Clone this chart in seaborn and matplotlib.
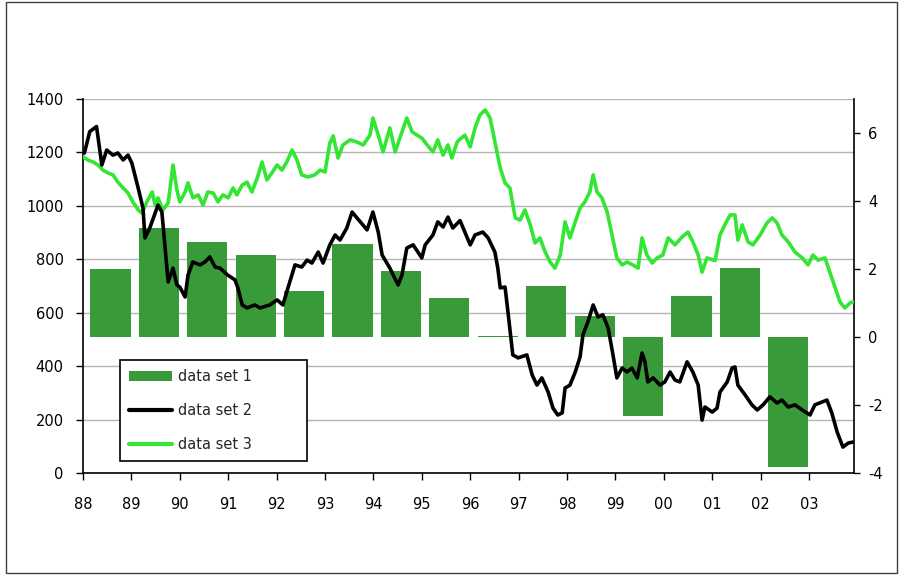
import matplotlib
matplotlib.use('Agg')
import matplotlib.pyplot as plt
import seaborn as sns
from matplotlib.patches import Patch, Rectangle
from matplotlib.lines import Line2D

# x axis runs in years counted from Jan 1988
year_labels = ['88', '89', '90', '91', '92', '93', '94', '95',
               '96', '97', '98', '99', '00', '01', '02', '03']

# data set 1: one bar per year, right axis
bar_t = [0.57, 1.57, 2.57, 3.57, 4.57, 5.57, 6.57, 7.57,
         8.57, 9.57, 10.57, 11.57, 12.57, 13.57, 14.57]
bar_values = [2.0, 3.2, 2.8, 2.4, 1.35, 2.75, 1.95, 1.15,
              0.03, 1.5, 0.62, -2.32, 1.2, 2.02, -3.81]

# data set 2: black line, left axis
set2_t = [0.03, 0.14, 0.28, 0.39, 0.49, 0.62, 0.72, 0.83, 0.93, 1.01,
          1.14, 1.24, 1.28, 1.38, 1.55, 1.63, 1.69, 1.76, 1.86, 1.94,
          2.00, 2.11, 2.17, 2.27, 2.42, 2.52, 2.62, 2.73, 2.83, 2.99,
          3.14, 3.20, 3.29, 3.39, 3.55, 3.66, 3.86, 4.01, 4.13, 4.24,
          4.38, 4.52, 4.63, 4.73, 4.86, 4.96, 5.10, 5.21, 5.31, 5.45,
          5.56, 5.66, 5.87, 5.99, 6.10, 6.18, 6.34, 6.51, 6.59, 6.69,
          6.82, 6.92, 7.00, 7.07, 7.23, 7.33, 7.44, 7.54, 7.64, 7.79,
          8.00, 8.10, 8.26, 8.37, 8.51, 8.57, 8.62, 8.72, 8.78, 8.88,
          8.99, 9.17, 9.28, 9.38, 9.48, 9.61, 9.71, 9.81, 9.90, 9.96,
          10.06, 10.17, 10.27, 10.33, 10.43, 10.54, 10.64, 10.74, 10.85, 10.95,
          11.03, 11.14, 11.24, 11.34, 11.45, 11.55, 11.61, 11.67, 11.78, 11.92,
          12.02, 12.13, 12.23, 12.33, 12.48, 12.60, 12.71, 12.79, 12.85, 13.00,
          13.10, 13.16, 13.31, 13.41, 13.47, 13.53, 13.68, 13.82, 13.93, 14.05,
          14.19, 14.34, 14.44, 14.57, 14.71, 14.86, 15.02, 15.12, 15.27, 15.37,
          15.47, 15.58, 15.70, 15.81, 15.91]
set2_v = [1198, 1278, 1297, 1153, 1209, 1190, 1198, 1172, 1190, 1160,
          1067, 992, 880, 917, 1003, 977, 854, 715, 767, 704,
          696, 659, 741, 790, 779, 790, 809, 771, 767, 741,
          723, 693, 629, 618, 629, 618, 629, 648, 629, 696,
          779, 771, 797, 786, 827, 786, 854, 891, 872, 917,
          977, 955, 910, 977, 902, 816, 767, 704, 741, 842,
          854, 827, 805, 854, 891, 940, 921, 958, 917, 945,
          854, 891, 902, 880, 827, 767, 693, 696, 603, 442,
          431, 442, 367, 329, 356, 303, 243, 217, 225, 318,
          329, 378, 435, 518, 565, 629, 584, 592, 543, 442,
          356, 393, 378, 393, 356, 449, 416, 341, 356, 329,
          341, 378, 348, 341, 416, 378, 329, 198, 247, 228,
          243, 303, 341, 393, 397, 329, 292, 255, 236, 255,
          285, 262, 273, 247, 255, 236, 217, 255, 266, 273,
          225, 154, 97, 112, 116]

# data set 3: green line, left axis
set3_t = [0.00, 0.10, 0.21, 0.31, 0.41, 0.52, 0.62, 0.72, 0.83, 0.93,
          1.03, 1.14, 1.22, 1.32, 1.43, 1.49, 1.55, 1.65, 1.76, 1.86,
          1.94, 2.00, 2.11, 2.17, 2.27, 2.38, 2.48, 2.58, 2.69, 2.79,
          2.89, 3.00, 3.10, 3.18, 3.29, 3.39, 3.49, 3.60, 3.70, 3.80,
          3.90, 4.01, 4.11, 4.21, 4.32, 4.42, 4.52, 4.65, 4.79, 4.90,
          5.00, 5.10, 5.17, 5.27, 5.37, 5.52, 5.66, 5.79, 5.93, 5.99,
          6.10, 6.20, 6.28, 6.34, 6.45, 6.59, 6.69, 6.80, 6.90, 7.00,
          7.11, 7.23, 7.33, 7.44, 7.54, 7.62, 7.73, 7.79, 7.89, 8.00,
          8.10, 8.20, 8.31, 8.41, 8.51, 8.62, 8.72, 8.82, 8.93, 9.03,
          9.13, 9.24, 9.34, 9.44, 9.55, 9.65, 9.75, 9.86, 9.96, 10.06,
          10.17, 10.27, 10.37, 10.47, 10.54, 10.62, 10.72, 10.83, 10.93, 11.03,
          11.14, 11.24, 11.36, 11.47, 11.55, 11.65, 11.76, 11.86, 11.98, 12.09,
          12.23, 12.38, 12.50, 12.60, 12.71, 12.79, 12.89, 13.06, 13.16, 13.26,
          13.37, 13.47, 13.53, 13.62, 13.74, 13.84, 13.99, 14.13, 14.24, 14.34,
          14.44, 14.57, 14.71, 14.86, 14.98, 15.08, 15.19, 15.33, 15.43, 15.54,
          15.64, 15.74, 15.85, 15.91]
set3_v = [1183, 1172, 1164, 1153, 1134, 1123, 1116, 1089, 1067, 1048,
          1015, 985, 973, 1015, 1052, 1003, 1030, 985, 1011, 1153,
          1060, 1015, 1052, 1086, 1030, 1041, 1003, 1052, 1048, 1015,
          1041, 1030, 1067, 1041, 1078, 1089, 1052, 1104, 1164, 1097,
          1123, 1153, 1134, 1164, 1209, 1172, 1116, 1108, 1116, 1134,
          1127, 1235, 1262, 1179, 1228, 1247, 1239, 1228, 1265, 1329,
          1265, 1202, 1254, 1292, 1202, 1277, 1329, 1277, 1265, 1254,
          1228, 1202, 1247, 1190, 1228, 1179, 1239, 1250, 1265, 1221,
          1292, 1340, 1359, 1329, 1239, 1142, 1086, 1067, 955, 947,
          985, 929, 861, 880, 827, 790, 767, 816, 940, 880,
          940, 992, 1015, 1052, 1116, 1052, 1030, 977, 891, 805,
          779, 790, 779, 767, 880, 816, 786, 805, 816, 880,
          854, 884, 902, 865, 816, 752, 805, 795, 891, 929,
          966, 966, 872, 929, 865, 854, 891, 936, 955, 936,
          891, 865, 827, 805, 779, 816, 797, 805, 752, 693,
          640, 618, 637, 640]

bar_color = '#389a38'
green = '#33e633'

sns.set_theme(style='white')
plt.rcParams['font.family'] = ['DejaVu Sans']

fig = plt.figure(figsize=(8.99, 5.75), dpi=100)
fig.subplots_adjust(left=0.0923, right=0.950, bottom=0.1774, top=0.8278)
ax = fig.add_subplot(111)
ax2 = ax.twinx()
ax3 = ax.twinx()
ax.set_zorder(1)
ax2.set_zorder(2)
ax3.set_zorder(3)
for a in (ax2, ax3):
    a.patch.set_visible(False)

# bars (right axis)
sns.barplot(x=bar_t, y=bar_values, native_scale=True, ax=ax2, color=bar_color,
            saturation=1, width=0.83, errorbar=None, linewidth=0)

# lines (left scale)
sns.lineplot(x=set3_t, y=set3_v, ax=ax3, color=green, linewidth=2.6,
             sort=False, estimator=None)
sns.lineplot(x=set2_t, y=set2_v, ax=ax3, color='black', linewidth=2.6,
             sort=False, estimator=None)

# left axis with grid
ax.set_xlim(0, 15.93)
ax.set_ylim(0, 1400)
ax.set_yticks(range(0, 1401, 200))
ax.set_xticks(range(len(year_labels)))
ax.set_xticklabels(year_labels)
ax.yaxis.grid(True, color='#b4b4b4', linewidth=1)
ax.xaxis.grid(False)
ax.set_axisbelow(True)
for s in ('top', 'right'):
    ax.spines[s].set_visible(False)
for s in ('left', 'bottom'):
    ax.spines[s].set_color('black')
    ax.spines[s].set_linewidth(1.2)
ax.tick_params(axis='y', left=True, direction='out', length=5, width=1,
               color='black', pad=9, labelsize=10.5, labelcolor='black')
ax.tick_params(axis='x', bottom=True, direction='out', length=5, width=1,
               color='black', pad=12, labelsize=10.5, labelcolor='black')

# right axis
ax2.set_ylim(-4, 7)
ax2.set_yticks([-4, -2, 0, 2, 4, 6])
ax2.set_yticklabels(['-4', '-2', '0', '2', '4', '6'])
for s in ('top', 'left', 'bottom'):
    ax2.spines[s].set_visible(False)
ax2.spines['right'].set_color('black')
ax2.spines['right'].set_linewidth(1.2)
ax2.tick_params(axis='y', right=True, direction='out', length=4, width=1,
                color='black', pad=6, labelsize=10.5, labelcolor='black')
ax2.set_xlabel('')
ax2.set_ylabel('')

ax3.set_ylim(0, 1400)
ax3.set_xlim(0, 15.93)
ax3.set_yticks([])
for s in ax3.spines.values():
    s.set_visible(False)
ax3.set_xlabel('')
ax3.set_ylabel('')

handles = [Patch(facecolor=bar_color, edgecolor='none'),
           Line2D([], [], color='black', linewidth=3),
           Line2D([], [], color=green, linewidth=3)]
leg = ax3.legend(handles, ['data set 1', 'data set 2', 'data set 3'],
                 loc='lower left', bbox_to_anchor=(0.048, 0.032, 0.2425, 0.278),
                 mode='expand', borderaxespad=0, fancybox=False, framealpha=1,
                 edgecolor='black', fontsize=10.5, handlelength=2.95,
                 labelspacing=1.32, borderpad=0.6, handletextpad=0.45)
leg.get_frame().set_linewidth(1.2)

# outer frame round the whole picture
fig.add_artist(Rectangle((6 / 899, 2 / 575), 891 / 899, 571 / 575,
                         transform=fig.transFigure, fill=False,
                         edgecolor='#404040', linewidth=1))

fig.savefig('out.png', dpi=100)
